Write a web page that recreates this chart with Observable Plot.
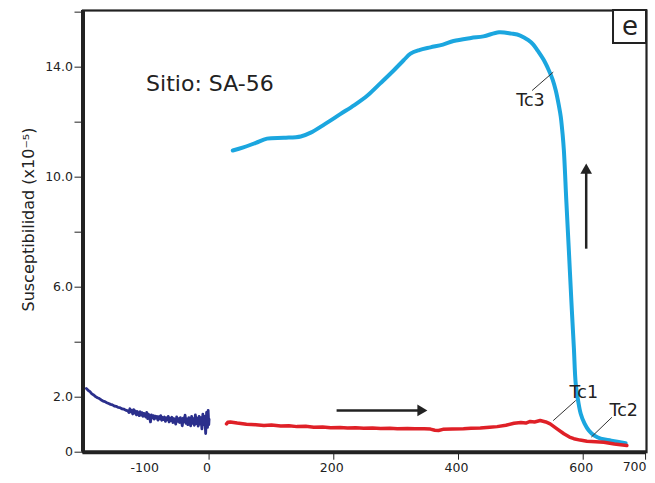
<!DOCTYPE html>
<html>
<head>
<meta charset="utf-8">
<script src="https://cdn.jsdelivr.net/npm/d3@7"></script>
<script src="https://cdn.jsdelivr.net/npm/@observablehq/plot@0.6"></script>
<style>
  html, body { margin: 0; padding: 0; background: #fff; }
</style>
</head>
<body>
<div id="chart"></div>
<script>
// Low-temperature run (navy), noisy
const lowTemp = [
  [-197,2.32],[-194,2.25],[-191,2.20],[-188,2.12],[-185,2.08],[-182,2.02],[-179,1.98],[-176,1.95],
  [-173,1.90],[-170,1.86],[-167,1.84],[-164,1.80],[-161,1.77],[-158,1.74],[-155,1.72],[-152,1.68],
  [-149,1.67],[-146,1.63],[-143,1.62],[-140,1.58],[-137,1.57],[-134,1.53],
  [-130,1.50],[-128.5,1.44],[-127,1.58],[-125.5,1.47],[-124,1.52],[-122.5,1.39],[-121,1.55],[-119.5,1.42],
  [-118,1.50],[-116.5,1.36],[-115,1.48],[-113.5,1.40],[-112,1.33],[-110.5,1.47],[-109,1.35],[-107.5,1.44],
  [-106,1.30],[-104.5,1.41],[-103,1.34],[-101.5,1.28],[-100,1.45],[-98.5,1.22],[-97,1.38],[-95.5,1.30],
  [-94,1.10],[-92.5,1.36],[-91,1.25],[-89.5,1.33],[-88,1.20],[-86.5,1.31],[-85,1.24],[-83.5,1.30],
  [-82,1.17],[-80.5,1.29],[-79,1.21],[-77.5,1.33],[-76,1.16],[-74.5,1.26],[-73,1.19],[-71.5,1.28],
  [-70,1.12],[-68.5,1.25],[-67,1.18],[-65.5,1.30],[-64,1.10],[-62.5,1.24],[-61,1.15],[-59.5,1.27],
  [-58,1.08],[-56.5,1.22],[-55,1.14],[-53.5,1.02],[-52,1.28],[-50.5,1.12],[-49,1.22],[-47.5,1.08],
  [-46,1.26],[-44.5,1.14],[-43,0.96],[-41.5,1.24],[-40,1.10],[-38.5,1.35],[-37,1.05],[-35.5,1.20],
  [-34,1.00],[-32.5,1.26],[-31,1.08],[-29.5,0.96],[-28,1.30],[-26.5,1.05],[-25,1.22],[-23.5,0.98],
  [-22,1.36],[-20.5,1.04],[-19,1.24],[-17.5,0.95],[-16,1.30],[-14.5,1.02],[-13,1.26],[-11.5,0.85],
  [-10,1.38],[-8.5,1.00],[-7,1.30],[-5.5,0.68],[-4,1.45],[-2.5,0.90],[-1.5,1.52],[-0.5,1.00],[0,1.20]
];
// Heating curve (red)
const heating = [
  [28,1.03],[30,1.09],[34,1.10],[45,1.06],[60,1.02],[75,1.00],[88,0.97],[100,0.99],[115,0.95],
  [128,0.96],[141,0.93],[155,0.94],[168,0.91],[182,0.92],[195,0.89],[210,0.90],[222,0.88],[235,0.89],
  [248,0.87],[262,0.88],[275,0.86],[290,0.87],[302,0.85],[318,0.86],[330,0.85],[345,0.85],[355,0.84],
  [362,0.80],[368,0.79],[375,0.83],[390,0.84],[408,0.85],[420,0.87],[435,0.88],[450,0.91],[462,0.93],
  [476,0.98],[489,1.05],[500,1.08],[508,1.06],[515,1.12],[522,1.10],[531,1.15],[540,1.10],[547,1.03],
  [558,0.85],[569,0.67],[578,0.55],[585,0.49],[595,0.44],[606,0.40],[620,0.38],[633,0.36],[650,0.30],[670,0.24]
];
// Cooling curve (cyan)
const cooling = [
  [38,10.97],[55,11.08],[75,11.25],[93,11.40],[120,11.43],[147,11.48],[163,11.62],[185,11.92],
  [211,12.30],[233,12.62],[254,12.97],[275,13.42],[296,13.88],[312,14.25],[323,14.49],[337,14.62],
  [355,14.72],[375,14.82],[392,14.95],[420,15.06],[440,15.12],[465,15.27],[485,15.22],[499,15.15],
  [512,14.98],[520,14.82],[527,14.60],[537,14.25],[545,13.88],[551,13.55],[556,13.15],[561,12.60],
  [564,12.20],[567,11.55],[569,10.97],[573,9.10],[577,7.33],[581,5.50],[585,3.80],[588,2.49],
  [592,1.85],[596,1.40],[602,1.05],[609,0.79],[618,0.60],[628,0.49],[645,0.42],[668,0.33]
];

const xTicks = [0, 200, 400, 600, 700];
const xLabels = [-100, 0, 200, 400, 600];
const yTicks = [0, 2, 4, 6, 8, 10, 12, 14, 16];
const yLabeled = [0, 2, 6, 10, 14];
const xDomain = [-202.2, 701.5];
const yDomain = [0, 16.06];

const siteLabel = [{text: "Sitio: SA-56", x: -101, y: 13.4}];
const tcLabels = [
  {text: "Tc1", x: 601, y: 2.18},
  {text: "Tc2", x: 665, y: 1.52},
  {text: "Tc3", x: 515.5, y: 12.79}
];
const tcLeaders = [
  {x1: 588, y1: 1.88, x2: 552, y2: 1.15},
  {x1: 646, y1: 1.27, x2: 613, y2: 0.55},
  {x1: 518, y1: 13.15, x2: 552, y2: 13.82}
];
const arrowShafts = [
  {x1: 204.5, y1: 1.52, x2: 341, y2: 1.52},
  {x1: 604.8, y1: 7.4, x2: 604.8, y2: 10.2}
];
const arrowHeads = [
  {x: 339.4, y: 1.52, angle: 90},
  {x: 604.8, y: 10.25, angle: 0}
];
const panelBox = [{x1: 648.6, x2: 701.5, y1: 14.86, y2: 16.06, text: "e"}];
const yTitle = [{text: "Susceptibilidad (x10\u207B\u2075)", y: 8.46}];

const ink = "#222";

const chart = Plot.plot({
  width: 655,
  height: 483,
  marginLeft: 82.5,
  marginRight: 9,
  marginTop: 10,
  marginBottom: 31.3,
  x: {domain: xDomain},
  y: {domain: yDomain},
  style: {fontFamily: "DejaVu Sans", background: "white", color: ink},
  marks: [
    Plot.axisY({ticks: yTicks, tickSize: 8, tickPadding: 2, fontSize: 12.5, label: null,
      tickFormat: d => yLabeled.includes(d) ? (d === 0 ? "0" : d.toFixed(1)) : ""}),
    Plot.axisX({ticks: xTicks, tickSize: 8, text: null, label: null}),
    Plot.text(xLabels, {x: d => d, frameAnchor: "bottom", dy: 16, dx: -2, text: d => String(d),
      fontSize: 12.5, fill: ink, lineAnchor: "middle"}),
    Plot.text([700], {x: d => d, frameAnchor: "bottom", dy: 15, dx: -11, text: d => String(d),
      fontSize: 12.5, fill: ink, lineAnchor: "middle"}),
    Plot.text(yTitle, {y: "y", text: "text", frameAnchor: "left", dx: -54, rotate: -90,
      textAnchor: "middle", fontSize: 16, fill: ink}),
    Plot.frame({stroke: ink, strokeWidth: 2.2}),
    Plot.ruleX([xDomain[0]], {stroke: ink, strokeWidth: 4}),
    Plot.ruleY([0], {stroke: ink, strokeWidth: 4}),
    Plot.line(lowTemp, {x: d => d[0], y: d => d[1], stroke: "#2b2f8c", strokeWidth: 2.8}),
    Plot.line(cooling, {x: d => d[0], y: d => d[1], stroke: "#1ba6df", strokeWidth: 4, curve: "catmull-rom"}),
    Plot.line(heating, {x: d => d[0], y: d => d[1], stroke: "#df2027", strokeWidth: 3.5}),
    Plot.link(tcLeaders, {x1: "x1", y1: "y1", x2: "x2", y2: "y2", stroke: "#333", strokeWidth: 1}),
    Plot.text(tcLabels, {x: "x", y: "y", text: "text", fontSize: 17.5, fill: ink}),
    Plot.link(arrowShafts, {x1: "x1", y1: "y1", x2: "x2", y2: "y2", stroke: ink, strokeWidth: 2.5}),
    Plot.dot(arrowHeads, {x: "x", y: "y", symbol: "triangle", r: 4.3, fill: ink, stroke: "none", rotate: "angle"}),
    Plot.text(siteLabel, {x: "x", y: "y", text: "text", textAnchor: "start", fontSize: 22, fill: ink}),
    Plot.rect(panelBox, {x1: "x1", x2: "x2", y1: "y1", y2: "y2", fill: "white", stroke: ink, strokeWidth: 2}),
    Plot.text(panelBox, {x: d => (d.x1 + d.x2) / 2, y: d => (d.y1 + d.y2) / 2, text: "text", fontSize: 26, fill: ink})
  ]
});
document.getElementById("chart").appendChild(chart);
</script>
</body>
</html>
